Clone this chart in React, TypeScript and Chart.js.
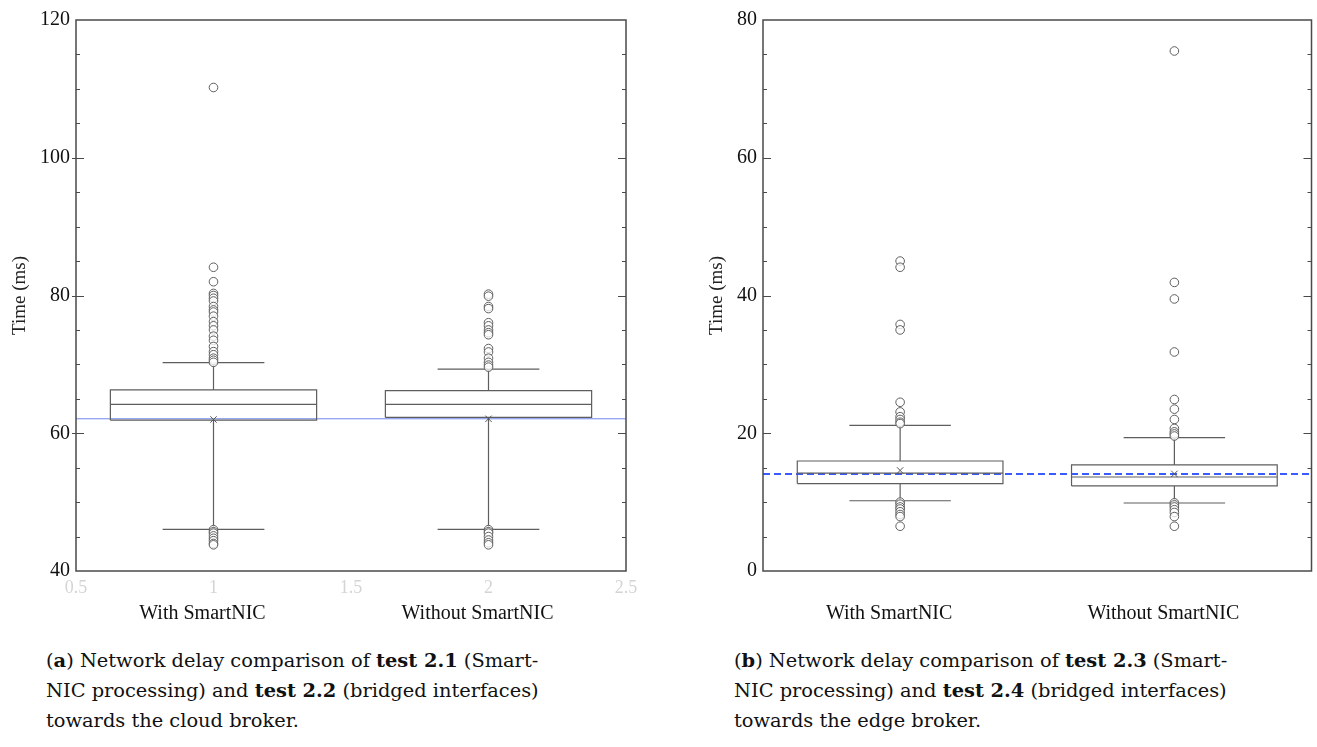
import React, { useEffect, useRef } from "react";
import { Chart, registerables } from "chart.js";

Chart.register(...registerables);

// ---------- data ----------
const categories = ["With SmartNIC", "Without SmartNIC"];
const positions = [1, 2];
const xTicks = [0.5, 1, 1.5, 2, 2.5];

// (a) cloud broker, test 2.1 / 2.2
const cloudQ1 = [61.9, 62.3];
const cloudMedian = [64.2, 64.2];
const cloudQ3 = [66.3, 66.2];
const cloudWhiskerLow = [46.05, 46.05];
const cloudWhiskerHigh = [70.25, 69.3];
const cloudMean = [62.0, 62.1];
const cloudOutliersWith = [110.2, 84.1, 82.0, 80.3, 80.0, 79.6, 79.2, 78.4, 77.9, 77.6, 77.0, 76.2, 75.6, 75.0, 74.1, 73.5, 72.6, 71.85, 71.4, 70.9, 70.6, 70.3, 46.0, 45.7, 45.5, 45.1, 44.75, 44.4, 44.0, 43.8];
const cloudOutliersWithout = [80.2, 79.9, 78.4, 78.1, 76.05, 75.6, 75.0, 74.6, 74.3, 72.3, 71.8, 70.9, 70.3, 69.9, 69.6, 46.0, 45.7, 45.5, 45.0, 44.5, 44.1, 43.8];
const cloudReference = 62.1;

// (b) edge broker, test 2.3 / 2.4
const edgeQ1 = [12.7, 12.35];
const edgeMedian = [14.2, 13.65];
const edgeQ3 = [15.97, 15.4];
const edgeWhiskerLow = [10.2, 9.87];
const edgeWhiskerHigh = [21.15, 19.37];
const edgeMean = [14.6, 14.1];
const edgeOutliersWith = [45.0, 44.1, 35.8, 35.0, 24.5, 23.1, 22.4, 22.0, 21.6, 21.4, 10.0, 9.7, 9.3, 9.0, 8.6, 8.2, 7.9, 6.5];
const edgeOutliersWithout = [75.5, 41.9, 39.5, 31.8, 24.9, 23.5, 22.0, 20.7, 20.2, 19.9, 19.6, 9.9, 9.6, 9.3, 8.9, 8.5, 7.9, 6.5];
const edgeReference = 14.1;

const HALF = 0.375;
const CAP = 0.185;

const framePlugin = {
  id: "frame",
  afterDraw(chart: any, _args: any, opts: any) {
    const { ctx, chartArea, scales } = chart;
    const { left, right, top, bottom } = chartArea;
    const y = scales.y;
    ctx.save();
    ctx.strokeStyle = "#4a4a4a";
    ctx.lineWidth = 1.5;
    ctx.strokeRect(left, top, right - left, bottom - top);
    ctx.lineWidth = 1;
    y.ticks.forEach((t: any) => {
      const py = Math.round(y.getPixelForValue(t.value)) + 0.5;
      const major = t.value % 20 === 0;
      if (py <= top + 1 || py >= bottom - 1) return;
      ctx.beginPath();
      if (major) {
        ctx.moveTo(left - opts.majorOut, py);
        ctx.lineTo(left + opts.majorIn, py);
        ctx.moveTo(right - opts.majorIn, py);
        ctx.lineTo(right, py);
      } else {
        ctx.moveTo(left, py);
        ctx.lineTo(left + 4, py);
        ctx.moveTo(right - 4, py);
        ctx.lineTo(right, py);
      }
      ctx.stroke();
    });
    ctx.restore();
  },
};

type Props = {
  left: number;
  width: number;
  yMin: number;
  yMax: number;
  yAxisWidth: number;
  titleOffset: number;
  padRight: number;
  q1: number[];
  median: number[];
  q3: number[];
  wLow: number[];
  wHigh: number[];
  mean: number[];
  outliers: number[][];
  reference: number;
  refColor: string;
  refWidth: number;
  refDash: number[];
  showXTicks: boolean;
  majorOut: number;
};

function BoxChart(p: Props) {
  const ref = useRef<HTMLCanvasElement | null>(null);
  useEffect(() => {
    if (!ref.current) return;
    const boxLines = positions.map((c, i) => {
      const gap = { x: c, y: null };
      return [
        { x: c - HALF, y: p.q1[i] }, { x: c + HALF, y: p.q1[i] }, { x: c + HALF, y: p.q3[i] }, { x: c - HALF, y: p.q3[i] }, { x: c - HALF, y: p.q1[i] }, gap,
        { x: c - HALF, y: p.median[i] }, { x: c + HALF, y: p.median[i] }, gap,
        { x: c, y: p.q3[i] }, { x: c, y: p.wHigh[i] }, gap,
        { x: c - CAP, y: p.wHigh[i] }, { x: c + CAP, y: p.wHigh[i] }, gap,
        { x: c, y: p.q1[i] }, { x: c, y: p.wLow[i] }, gap,
        { x: c - CAP, y: p.wLow[i] }, { x: c + CAP, y: p.wLow[i] },
      ];
    });
    const datasets: any[] = [];
    positions.forEach((c, i) => {
      datasets.push({
        data: p.outliers[i].map((v) => ({ x: c, y: v })),
        pointStyle: "circle",
        pointRadius: 4.3,
        pointBorderWidth: 1,
        pointBorderColor: "#5e5e5e",
        pointBackgroundColor: "rgba(255,255,255,0.75)",
        showLine: false,
      });
    });
    datasets.push({
      data: positions.map((c, i) => ({ x: c, y: p.mean[i] })),
      pointStyle: "crossRot",
      pointRadius: 4.5,
      pointBorderWidth: 1,
      pointBorderColor: "#555",
      showLine: false,
    });
    boxLines.forEach((pts) => {
      datasets.push({
        data: pts,
        showLine: true,
        spanGaps: false,
        pointRadius: 0,
        borderColor: "#5e5e5e",
        borderWidth: 1.2,
      });
    });
    datasets.push({
      data: [{ x: xTicks[0], y: p.reference }, { x: xTicks[xTicks.length - 1], y: p.reference }],
      showLine: true,
      pointRadius: 0,
      borderColor: p.refColor,
      borderWidth: p.refWidth,
      borderDash: p.refDash,
    });

    const chart = new Chart(ref.current, {
      type: "scatter",
      data: { datasets },
      plugins: [framePlugin],
      options: {
        animation: false,
        responsive: false,
        events: [],
        layout: { padding: { top: 20, right: p.padRight, bottom: 0, left: 0 } },
        plugins: {
          legend: { display: false },
          tooltip: { enabled: false },
          frame: { majorOut: p.majorOut, majorIn: 8 },
        } as any,
        scales: {
          x: {
            type: "linear",
            position: "bottom",
            min: xTicks[0],
            max: xTicks[xTicks.length - 1],
            grid: { display: false, drawTicks: false },
            border: { display: false },
            afterBuildTicks: (s: any) => { s.ticks = xTicks.map((v) => ({ value: v })); },
            afterFit: (s: any) => { s.height = 30; },
            ticks: {
              display: p.showXTicks,
              color: "#d4d4d4",
              padding: 6,
              font: { family: "Liberation Serif", size: 18 },
              callback: (v: any) => String(Number(v)),
            },
          },
          x2: {
            type: "linear",
            position: "bottom",
            min: xTicks[0],
            max: xTicks[xTicks.length - 1],
            grid: { display: false, drawTicks: false },
            border: { display: false },
            afterBuildTicks: (s: any) => { s.ticks = positions.map((v) => ({ value: v })); },
            afterFit: (s: any) => { s.height = 40; },
            ticks: {
              color: "#111",
              padding: 1,
              labelOffset: -11,
              font: { family: "Liberation Serif", size: 20 },
              callback: (v: any) => categories[positions.indexOf(Number(v))],
            },
          },
          y: {
            type: "linear",
            min: p.yMin,
            max: p.yMax,
            grid: { display: false, drawTicks: false },
            border: { display: false },
            afterFit: (s: any) => { s.width = p.yAxisWidth; },
            ticks: {
              stepSize: 5,
              autoSkip: false,
              padding: 6,
              color: "#111",
              font: { family: "Liberation Serif", size: 20 },
              callback: (v: any) => (Number(v) % 20 === 0 ? String(v) : ""),
            },
            title: {
              display: true,
              text: "Time (ms)",
              color: "#222",
              font: { family: "Liberation Serif", size: 19 },
              padding: { top: p.titleOffset, bottom: 0 },
            },
          },
        },
      } as any,
    });
    return () => chart.destroy();
  }, []);
  return (
    <canvas
      ref={ref}
      width={p.width}
      height={641}
      style={{ position: "absolute", left: p.left, top: 0, width: p.width, height: 641 }}
    />
  );
}

const captionStyle: React.CSSProperties = {
  position: "absolute",
  top: 646,
  fontFamily: '"DejaVu Serif", serif',
  fontSize: 19.4,
  lineHeight: "30px",
  color: "#111",
  whiteSpace: "nowrap",
};

export default function App() {
  return (
    <div>
      <BoxChart
        left={0}
        width={650}
        yMin={40}
        yMax={120}
        yAxisWidth={76}
        titleOffset={8.6}
        padRight={24}
        q1={cloudQ1}
        median={cloudMedian}
        q3={cloudQ3}
        wLow={cloudWhiskerLow}
        wHigh={cloudWhiskerHigh}
        mean={cloudMean}
        outliers={[cloudOutliersWith, cloudOutliersWithout]}
        reference={cloudReference}
        refColor="#7088ee"
        refWidth={1}
        refDash={[]}
        showXTicks={true}
        majorOut={4}
      />
      <BoxChart
        left={660}
        width={657}
        yMin={0}
        yMax={80}
        yAxisWidth={103}
        titleOffset={45.6}
        padRight={4}
        q1={edgeQ1}
        median={edgeMedian}
        q3={edgeQ3}
        wLow={edgeWhiskerLow}
        wHigh={edgeWhiskerHigh}
        mean={edgeMean}
        outliers={[edgeOutliersWith, edgeOutliersWithout]}
        reference={edgeReference}
        refColor="#3a5cff"
        refWidth={2}
        refDash={[7, 4]}
        showXTicks={false}
        majorOut={0}
      />
      <div style={{ ...captionStyle, left: 46 }}>
        (<b>a</b>) Network delay comparison of <b>test 2.1</b> (Smart-
        <br />
        NIC processing) and <b>test 2.2</b> (bridged interfaces)
        <br />
        towards the cloud broker.
      </div>
      <div style={{ ...captionStyle, left: 734 }}>
        (<b>b</b>) Network delay comparison of <b>test 2.3</b> (Smart-
        <br />
        NIC processing) and <b>test 2.4</b> (bridged interfaces)
        <br />
        towards the edge broker.
      </div>
    </div>
  );
}
